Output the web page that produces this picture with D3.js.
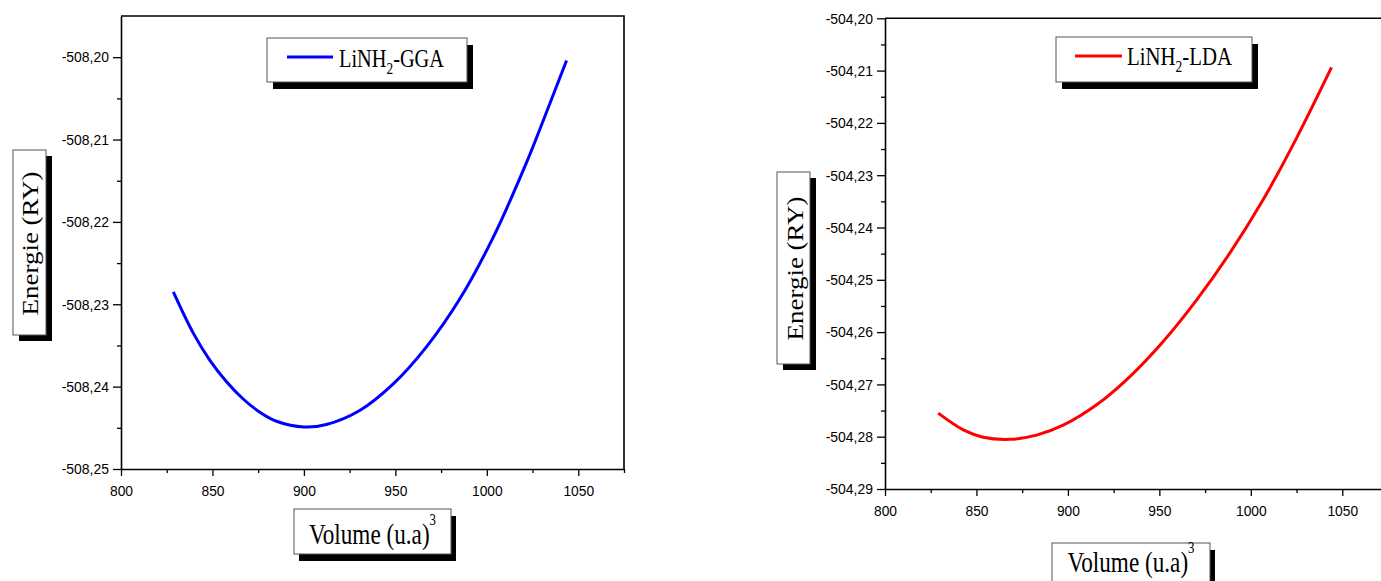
<!DOCTYPE html>
<html>
<head>
<meta charset="utf-8">
<script src="https://cdn.jsdelivr.net/npm/d3@7.9.0/dist/d3.min.js"></script>
<style>
  html, body { margin: 0; padding: 0; background: #fff; }
  svg { display: block; }
  .tick text { font-family: "Liberation Sans", Arial, sans-serif; font-size: 15px; fill: #000; }
  .serif { font-family: "Liberation Serif", "Times New Roman", serif; fill: #000; }
</style>
</head>
<body>
<svg id="chart" width="1381" height="581"></svg>
<script>
// values
const ggaVolume = [828.6, 839.5, 848.6, 857.7, 866.8, 875.9, 885.0, 900.1, 912.3, 930.5, 948.7, 966.9, 985.1, 1003.2, 1021.5, 1032.4, 1043.6];
const ggaEnergy = [-508.2285, -508.2335, -508.2368, -508.2394, -508.2415, -508.2431, -508.2442, -508.2449, -508.2446, -508.2429, -508.2397, -508.2352, -508.2294, -508.2220, -508.2129, -508.2068, -508.2004];

const ldaVolume = [829.1, 842.8, 853.7, 868.3, 882.9, 897.4, 915.7, 933.9, 952.1, 970.3, 988.5, 1006.7, 1025.0, 1044.1];
const ldaEnergy = [-504.2755, -504.2787, -504.2801, -504.2805, -504.2797, -504.2778, -504.2739, -504.2685, -504.2618, -504.2539, -504.2449, -504.2347, -504.2229, -504.2094];

const xTicks = [800, 850, 900, 950, 1000, 1050];
const xMinor = [825, 875, 925, 975, 1025, 1075];
const ggaYTicks = [-508.25, -508.24, -508.23, -508.22, -508.21, -508.20];
const ggaYMinor = [-508.245, -508.235, -508.225, -508.215, -508.205];
const ldaYTicks = [-504.29, -504.28, -504.27, -504.26, -504.25, -504.24, -504.23, -504.22, -504.21, -504.20];
const ldaYMinor = [-504.285, -504.275, -504.265, -504.255, -504.245, -504.235, -504.225, -504.215, -504.205];

const fr = d3.formatLocale({ decimal: ",", thousands: ".", grouping: [3], currency: ["", ""], minus: "-" });
const fmt = fr.format(".2f");

const svg = d3.select('#chart');

const panels = [
  {
    vol: ggaVolume, en: ggaEnergy, color: '#0000ff', name: '-GGA',
    x0: 121, x1: 624, y0: 16, y1: 469,
    yDomain: [-508.25, -508.195], yTicks: ggaYTicks, yMinor: ggaYMinor,
    legend: { x: 267, y: 38, w: 200, h: 44, lx1: 287, lx2: 333, ly: 57, tx: 339, ty: 66.5 },
    ytitle: { x: 13, y: 150, w: 33, h: 185, bx: 38.3, cy: 243.5 },
    xtitle: { x: 294, y: 509, w: 157, h: 45, ty: 544 }
  },
  {
    vol: ldaVolume, en: ldaEnergy, color: '#ff0000', name: '-LDA',
    x0: 885, x1: 1388, y0: 18.3, y1: 489,
    yDomain: [-504.29, -504.20], yTicks: ldaYTicks, yMinor: ldaYMinor,
    legend: { x: 1056, y: 37, w: 196, h: 45, lx1: 1075, lx2: 1122, ly: 56, tx: 1127, ty: 65 },
    ytitle: { x: 777, y: 172, w: 33, h: 192, bx: 802.7, cy: 268.5 },
    xtitle: { x: 1052, y: 543, w: 158, h: 45, ty: 572 }
  }
];

function squish(sel, k) {
  sel.each(function () {
    const len = this.getComputedTextLength();
    d3.select(this).attr('textLength', len * k).attr('lengthAdjust', 'spacingAndGlyphs');
  });
}

function shadowBox(g, b, dx, dy) {
  g.append('rect').attr('x', b.x + dx).attr('y', b.y + dy).attr('width', b.w).attr('height', b.h).attr('fill', '#000');
  g.append('rect').attr('x', b.x).attr('y', b.y).attr('width', b.w).attr('height', b.h)
    .attr('fill', '#fff').attr('stroke', '#555').attr('stroke-width', 1);
}

panels.forEach(p => {
  const g = svg.append('g');
  const x = d3.scaleLinear().domain([800, 1075]).range([p.x0, p.x1]);
  const y = d3.scaleLinear().domain(p.yDomain).range([p.y1, p.y0]);

  // frame top + right
  g.append('path')
    .attr('d', `M${p.x0},${p.y0}H${p.x1}V${p.y1}`)
    .attr('fill', 'none').attr('stroke', '#000').attr('stroke-width', 1.6);

  // minor ticks
  g.append('g').attr('transform', `translate(0,${p.y1})`)
    .call(d3.axisBottom(x).tickValues(xMinor).tickSize(4).tickFormat(''))
    .call(s => s.select('.domain').remove())
    .selectAll('line').attr('stroke-width', 1.3);
  g.append('g').attr('transform', `translate(${p.x0},0)`)
    .call(d3.axisLeft(y).tickValues(p.yMinor).tickSize(4).tickFormat(''))
    .call(s => s.select('.domain').remove())
    .selectAll('line').attr('stroke-width', 1.3);

  // major axes
  const xa = g.append('g').attr('transform', `translate(0,${p.y1})`)
    .call(d3.axisBottom(x).tickValues(xTicks).tickFormat(d3.format('d')).tickSize(7).tickSizeOuter(0).tickPadding(9));
  const ya = g.append('g').attr('transform', `translate(${p.x0},0)`)
    .call(d3.axisLeft(y).tickValues(p.yTicks).tickFormat(fmt).tickSize(8).tickSizeOuter(0).tickPadding(4));
  [xa, ya].forEach(a => {
    a.select('.domain').attr('stroke-width', 1.6);
    a.selectAll('.tick line').attr('stroke-width', 1.3);
    a.attr('font-family', null).attr('font-size', null);
  });
  squish(xa.selectAll('.tick text'), 0.92);
  squish(ya.selectAll('.tick text'), 0.93);

  // curve
  const line = d3.line()
    .x((d, i) => x(p.vol[i]))
    .y(d => y(d))
    .curve(d3.curveCatmullRom.alpha(0.5));
  g.append('path').datum(p.en)
    .attr('d', line)
    .attr('fill', 'none').attr('stroke', p.color).attr('stroke-width', 3);

  // legend
  const L = p.legend;
  shadowBox(g, L, 6, 7);
  g.append('line').attr('x1', L.lx1).attr('x2', L.lx2).attr('y1', L.ly).attr('y2', L.ly)
    .attr('stroke', p.color).attr('stroke-width', 3);
  const lt = g.append('text').attr('class', 'serif').attr('x', L.tx).attr('y', L.ty).attr('font-size', 26);
  lt.append('tspan').text('LiNH');
  lt.append('tspan').attr('font-size', 17).attr('dy', 7).text('2');
  lt.append('tspan').attr('dy', -7).text(p.name);
  lt.attr('textLength', 105).attr('lengthAdjust', 'spacingAndGlyphs');

  // y title
  const Y = p.ytitle;
  shadowBox(g, Y, 6, 6);
  g.append('text').attr('class', 'serif')
    .attr('transform', `translate(${Y.bx},${Y.cy}) rotate(-90) scale(1,0.88)`)
    .attr('text-anchor', 'middle').attr('font-size', 27)
    .text('Energie (RY)');

  // x title
  const X = p.xtitle;
  shadowBox(g, X, 5, 7);
  const xt = g.append('text').attr('class', 'serif')
    .attr('x', X.x + X.w / 2).attr('y', X.ty).attr('text-anchor', 'middle').attr('font-size', 29);
  xt.append('tspan').text('Volume (u.a)');
  xt.append('tspan').attr('font-size', 16).attr('dy', -19).text('3');
  xt.attr('textLength', 127).attr('lengthAdjust', 'spacingAndGlyphs');
});
</script>
</body>
</html>
